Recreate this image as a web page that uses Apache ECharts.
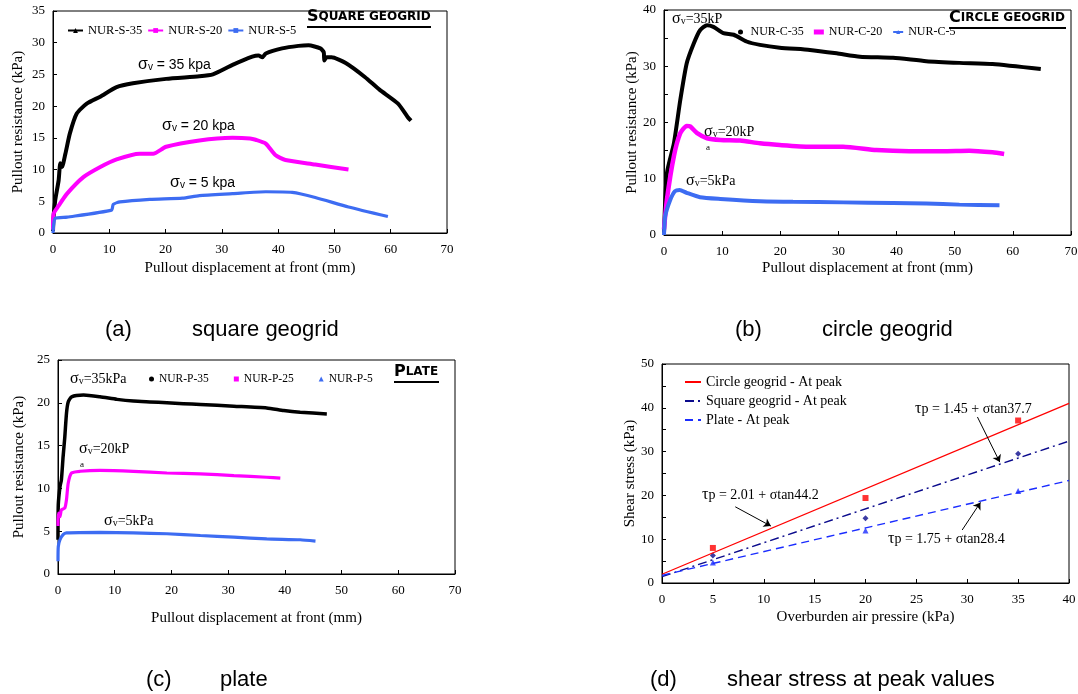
<!DOCTYPE html>
<html><head><meta charset="utf-8">
<script src="https://cdn.jsdelivr.net/npm/echarts@6.0.0/dist/echarts.min.js"></script>
<style>html,body{margin:0;padding:0;background:#fff}#c{width:1078px;height:694px}</style>
</head><body><div id="c"></div>
<script>
// ---------- DATA ----------
// Panel (a) square geogrid: [displacement mm, pullout resistance kPa]
const nurS35 = [[0,0.3],[0.1,2.5],[0.4,5.2],[1,8.3],[1.3,11],[1.6,10.4],[2.2,12.5],[3,15.7],[4.2,18.8],[6,20.4],[8.4,21.5],[11.3,23],[14.2,23.6],[20.1,24.3],[26,24.7],[28.4,25],[31.9,26.5],[35.4,27.8],[36.5,28.0],[37.2,27.7],[37.8,28.3],[40.7,29.1],[43.6,29.5],[45.4,29.6],[47.5,29.1],[48.1,28.5],[48.2,27.2],[48.6,27.7],[49.5,27.7],[52,26.8],[55.4,24.6],[58,22.6],[61.3,20.4],[63,18.3],[63.6,17.7]];
const nurS20 = [[0,0.5],[0.1,3],[1,4.3],[2.5,6.2],[5.4,8.8],[8.4,10.4],[11.3,11.6],[15.4,12.5],[17.8,12.5],[20.1,13.6],[26,14.6],[31.9,15],[35,14.9],[36,14.7],[37.8,14.1],[39.5,12.3],[41.3,11.5],[46.6,10.8],[52.5,10]];
const nurS5 = [[0,0],[0.1,1.2],[0.4,2.3],[2.5,2.5],[10.4,3.6],[10.7,4.5],[11.9,4.9],[17.2,5.3],[23,5.5],[26,5.9],[31.9,6.2],[37.8,6.5],[42.5,6.4],[46.6,5.6],[52.5,4.1],[59.5,2.6]];
// Panel (b) circle geogrid
const nurC35 = [[0,0.4],[0.5,11],[1.7,16.3],[2.8,24],[3.9,30.5],[5.1,34],[6.2,36.4],[7.4,37.3],[8.5,37],[10.2,35.9],[12,35.6],[14.2,34.4],[16.5,33.8],[19.9,33.3],[25.1,32.9],[29.7,32.3],[33.7,31.7],[39.4,31.5],[45.1,30.9],[50.8,30.6],[56.5,30.4],[64.8,29.5]];
const nurC20 = [[0,1],[0.5,6.3],[1.7,14],[2.8,18.1],[3.9,19.4],[4.5,19.3],[5.7,18.1],[7.4,17.2],[9.7,16.9],[13.1,16.8],[16.5,16.3],[19.9,16],[25.1,15.7],[30.8,15.7],[36.5,15.1],[42.2,14.9],[47.9,14.9],[52.5,15],[56.5,14.7],[58.5,14.4]];
const nurC5 = [[0,0],[0.2,3.3],[1.1,6.3],[1.9,7.8],[2.7,8],[3.9,7.5],[6.2,6.7],[9.7,6.4],[16.5,6],[22.2,5.9],[30.8,5.8],[39.4,5.7],[45.1,5.6],[50.8,5.4],[57.7,5.3]];
// Panel (c) plate
const nurP35 = [[0,4],[0.05,8.1],[0.35,10.2],[0.6,11],[0.9,13.7],[1.2,16],[1.5,18.8],[1.8,20.1],[2.4,20.7],[4.5,20.9],[7.4,20.7],[10.4,20.4],[13.3,20.2],[16.2,20.1],[19.2,20],[22.1,19.9],[25.1,19.8],[31,19.6],[36.8,19.4],[39.8,19.1],[42.7,18.9],[47.4,18.7]];
const nurP25 = [[0,5.6],[0.05,7.1],[0.35,6.7],[0.6,7.5],[1.2,7.7],[1.5,8.7],[1.8,10.6],[2.4,11.8],[3.9,12],[7.4,12.1],[13.3,12],[19.2,11.8],[25.1,11.7],[31,11.5],[36.8,11.3],[39.2,11.2]];
const nurP5 = [[0,1.5],[0.05,3.2],[0.35,4],[0.9,4.6],[1.5,4.8],[7.4,4.86],[13.3,4.8],[19.2,4.7],[25.1,4.5],[31,4.3],[36.8,4.1],[42.7,4],[45.4,3.85]];
// Panel (d) shear stress at peak
const pressures = [5, 20, 35];
const circlePeak = [8.0, 19.4, 37.1];
const squarePeak = [6.3, 14.8, 29.5];
const platePeak = [4.7, 12.0, 21.0];
const fitX = [0, 40];
const circleFit = [2.0, 41.0];
const squareFit = [1.45, 32.4];
const plateFit = [1.75, 23.4];

// ---------- STYLE ----------
const SERIF = '"Liberation Serif", "Times New Roman", serif';
const SANS = '"Liberation Sans", Arial, sans-serif';
const MAG = '#ff00ff', BLUE = '#3d6cf2', NAVY = '#0a0a8c', RED = '#ff0000', PBLUE = '#1a2cff';

const pair = (xs, ys) => xs.map((x, i) => [x, ys[i]]);

function xAx(gi, max, interval, name, gap) {
  return { type:'value', gridIndex:gi, min:0, max:max, interval:interval,
    name:name, nameLocation:'middle', nameGap:gap,
    nameTextStyle:{fontFamily:SERIF, fontSize:15, color:'#000'},
    axisLine:{lineStyle:{color:'#000', width:1}},
    axisTick:{inside:true, length:4, lineStyle:{color:'#000'}},
    axisLabel:{fontFamily:SERIF, fontSize:13, color:'#000', margin:10},
    splitLine:{show:false} };
}
function yAx(gi, max, interval, name, gap, minor) {
  return { type:'value', gridIndex:gi, min:0, max:max, interval:interval,
    name:name, nameLocation:'middle', nameGap:gap, nameRotate:90,
    nameTextStyle:{fontFamily:SERIF, fontSize:15, color:'#000'},
    axisLine:{lineStyle:{color:'#000', width:1}},
    axisTick:{inside:true, length:4, lineStyle:{color:'#000'}},
    minorTick: minor ? {show:true, splitNumber:2, length:4, lineStyle:{color:'#000'}} : {show:false},
    axisLabel:{fontFamily:SERIF, fontSize:13, color:'#000', margin:8},
    splitLine:{show:false} };
}
function ln(name, data, gi, color, width, symbol) {
  return { type:'line', name:name, data:data, xAxisIndex:gi, yAxisIndex:gi,
    symbol:symbol||'circle', showSymbol:false, symbolSize:5,
    itemStyle:{color:color}, lineStyle:{color:color, width:width},
    smooth:0.2, animation:false, silent:true, z:3 };
}

const sigRich = {
  s:{fontFamily:SERIF, fontSize:16, fill:'#000'},
  v:{fontFamily:SERIF, fontSize:10, fill:'#000', padding:[5,0,0,0]},
  t:{fontFamily:SERIF, fontSize:14, fill:'#000'},
  ss:{fontFamily:SANS, fontSize:16, fill:'#000'},
  sv:{fontFamily:SANS, fontSize:10, fill:'#000', padding:[5,0,0,0]},
  st:{fontFamily:SANS, fontSize:14, fill:'#000'},
  tau:{fontFamily:SERIF, fontSize:16, fill:'#000'},
  p:{fontFamily:SERIF, fontSize:14, fill:'#000'}
};
function rt(x, y, text) {
  return { type:'text', x:x, y:y, silent:true, z:10,
    style:{ text:text, rich:sigRich, textVerticalAlign:'middle', textAlign:'left', fill:'#000' } };
}
function plain(x, y, text, font, align) {
  return { type:'text', x:x, y:y, silent:true, z:10,
    style:{ text:text, font:font, fill:'#000', textVerticalAlign:'middle', textAlign:align||'left' } };
}
const capRich = {
  b:{fontFamily:'"DejaVu Sans", sans-serif', fontWeight:'bold', fontSize:16, fill:'#000'},
  m:{fontFamily:'"DejaVu Sans", sans-serif', fontWeight:'bold', fontSize:12, fill:'#000'}
};
function title(x, y, text, x2) {
  return [
    { type:'text', x:x, y:y, silent:true, z:10,
      style:{ text:text, rich:capRich, textVerticalAlign:'bottom', textAlign:'left' } },
    { type:'line', silent:true, z:10, shape:{x1:x, y1:y+2, x2:x2, y2:y+2}, style:{stroke:'#000', lineWidth:1.8} }
  ];
}

const chart = echarts.init(document.getElementById('c'), null, {renderer:'canvas'});

const option = {
  backgroundColor:'#fff',
  animation:false,
  grid:[
    {left:53, top:11, width:394, height:222, show:true, borderColor:'#000', borderWidth:1, outerBoundsMode:'none'},
    {left:664, top:10, width:407, height:225, show:true, borderColor:'#000', borderWidth:1, outerBoundsMode:'none'},
    {left:58, top:360, width:397, height:214, show:true, borderColor:'#000', borderWidth:1, outerBoundsMode:'none'},
    {left:662, top:364, width:407, height:219, show:true, borderColor:'#000', borderWidth:1, outerBoundsMode:'none'}
  ],
  xAxis:[
    xAx(0, 70, 10, 'Pullout displacement at front (mm)', 28),
    xAx(1, 70, 10, 'Pullout displacement at front (mm)', 26),
    xAx(2, 70, 10, 'Pullout displacement at front (mm)', 37),
    xAx(3, 40, 5, 'Overburden air pressire (kPa)', 27)
  ],
  yAxis:[
    yAx(0, 35, 5, 'Pullout resistance (kPa)', 27),
    yAx(1, 40, 10, 'Pullout resistance (kPa)', 22, true),
    yAx(2, 25, 5, 'Pullout resistance (kPa)', 31),
    yAx(3, 50, 10, 'Shear stress (kPa)', 23, true)
  ],
  legend:[
    {left:67, top:24, padding:0, itemWidth:15, itemHeight:6, itemGap:5, selectedMode:false,
      textStyle:{fontFamily:SERIF, fontSize:12.5, color:'#000'},
      data:['NUR-S-35', 'NUR-S-20', 'NUR-S-5']},
    {left:738, top:26, padding:0, itemWidth:10, itemHeight:5, itemGap:10, selectedMode:false,
      textStyle:{fontFamily:SERIF, fontSize:12, color:'#000'},
      data:[{name:'NUR-C-35', icon:'circle'}, {name:'NUR-C-20', icon:'rect'}, 'NUR-C-5']},
    {left:149, top:373, padding:0, itemWidth:5, itemHeight:5, itemGap:25, selectedMode:false,
      textStyle:{fontFamily:SERIF, fontSize:11.5, color:'#000'},
      data:[{name:'NUR-P-35', icon:'circle'}, {name:'NUR-P-25', icon:'rect'}, {name:'NUR-P-5', icon:'triangle'}]},
    {left:684, top:375, padding:0, orient:'vertical', itemWidth:16, itemHeight:8, itemGap:5, selectedMode:false,
      itemStyle:{opacity:0},
      textStyle:{fontFamily:SERIF, fontSize:14, color:'#000'},
      data:['Circle geogrid - At peak', 'Square geogrid - At peak', 'Plate - At peak']}
  ],
  series:[
    ln('NUR-S-35', nurS35, 0, '#000', 4, 'triangle'),
    ln('NUR-S-20', nurS20, 0, MAG, 4, 'rect'),
    ln('NUR-S-5', nurS5, 0, BLUE, 3.2, 'rect'),
    ln('NUR-C-35', nurC35, 1, '#000', 4, 'circle'),
    ln('NUR-C-20', nurC20, 1, MAG, 4.5, 'rect'),
    ln('NUR-C-5', nurC5, 1, BLUE, 4, 'triangle'),
    ln('NUR-P-35', nurP35, 2, '#000', 3.5, 'circle'),
    ln('NUR-P-25', nurP25, 2, MAG, 3.2, 'rect'),
    ln('NUR-P-5', nurP5, 2, BLUE, 3.2, 'triangle'),
    { type:'line', name:'Circle geogrid - At peak', xAxisIndex:3, yAxisIndex:3, data:pair(fitX, circleFit),
      symbol:'none', lineStyle:{color:RED, width:1.3}, itemStyle:{color:RED}, silent:true,
      markLine:{ silent:true, symbol:['none','arrow'], symbolSize:7, label:{show:false},
        lineStyle:{color:'#000', width:1, type:'solid'},
        data:[[{coord:[7.2,17.4]},{coord:[10.7,13.0]}]] } },
    { type:'line', name:'Square geogrid - At peak', xAxisIndex:3, yAxisIndex:3, data:pair(fitX, squareFit),
      symbol:'none', lineStyle:{color:NAVY, width:1.4, type:[9,4,2,4]}, itemStyle:{color:NAVY}, silent:true,
      markLine:{ silent:true, symbol:['none','arrow'], symbolSize:7, label:{show:false},
        lineStyle:{color:'#000', width:1, type:'solid'},
        data:[[{coord:[31.0,37.9]},{coord:[33.2,27.6]}]] } },
    { type:'line', name:'Plate - At peak', xAxisIndex:3, yAxisIndex:3, data:pair(fitX, plateFit),
      symbol:'none', lineStyle:{color:PBLUE, width:1.4, type:[8,5]}, itemStyle:{color:PBLUE}, silent:true,
      markLine:{ silent:true, symbol:['none','arrow'], symbolSize:7, label:{show:false},
        lineStyle:{color:'#000', width:1, type:'solid'},
        data:[[{coord:[29.5,12.1]},{coord:[31.3,18.4]}]] } },
    { type:'scatter', name:'circlePts', xAxisIndex:3, yAxisIndex:3, data:pair(pressures, circlePeak),
      symbol:'rect', symbolSize:6, itemStyle:{color:RED}, silent:true },
    { type:'scatter', name:'squarePts', xAxisIndex:3, yAxisIndex:3, data:pair(pressures, squarePeak),
      symbol:'diamond', symbolSize:6, itemStyle:{color:NAVY}, silent:true },
    { type:'scatter', name:'platePts', xAxisIndex:3, yAxisIndex:3, data:pair(pressures, platePeak),
      symbol:'triangle', symbolSize:6, itemStyle:{color:PBLUE}, silent:true }
  ],
  graphic:[
    // panel (a)
    rt(138, 65, '{ss|σ}{sv|v}{st| = 35 kpa}'),
    rt(162, 126, '{ss|σ}{sv|v}{st| = 20 kpa}'),
    rt(170, 183, '{ss|σ}{sv|v}{st| = 5 kpa}'),
    ...title(307, 25, '{b|S}{m|QUARE GEOGRID}', 431),
    // panel (b)
    rt(672, 19, '{s|σ}{v|v}{t|=35kP}'),
    rt(704, 132, '{s|σ}{v|v}{t|=20kP}'),
    plain(706, 148, 'a', '9px ' + SERIF),
    rt(686, 181, '{s|σ}{v|v}{t|=5kPa}'),
    ...title(949, 26, '{b|C}{m|IRCLE GEOGRID}', 1066),
    // panel (c)
    rt(70, 379, '{s|σ}{v|v}{t|=35kPa}'),
    rt(79, 449, '{s|σ}{v|v}{t|=20kP}'),
    plain(80, 465, 'a', '9px ' + SERIF),
    rt(104, 521, '{s|σ}{v|v}{t|=5kPa}'),
    ...title(394, 380, '{b|P}{m|LATE}', 439),
    // panel (d)
    rt(915, 409, '{tau|τ}{p|p = 1.45 + σtan37.7}'),
    rt(702, 495, '{tau|τ}{p|p = 2.01 + σtan44.2}'),
    rt(888, 539, '{tau|τ}{p|p = 1.75 + σtan28.4}'),
    // captions
    plain(105, 330, '(a)', '22px ' + SANS),
    plain(192, 330, 'square geogrid', '22px ' + SANS),
    plain(735, 330, '(b)', '22px ' + SANS),
    plain(822, 330, 'circle geogrid', '22px ' + SANS),
    plain(146, 680, '(c)', '22px ' + SANS),
    plain(220, 680, 'plate', '22px ' + SANS),
    plain(650, 680, '(d)', '22px ' + SANS),
    plain(727, 680, 'shear stress at peak values', '22px ' + SANS)
  ]
};
chart.setOption(option);
</script></body></html>
